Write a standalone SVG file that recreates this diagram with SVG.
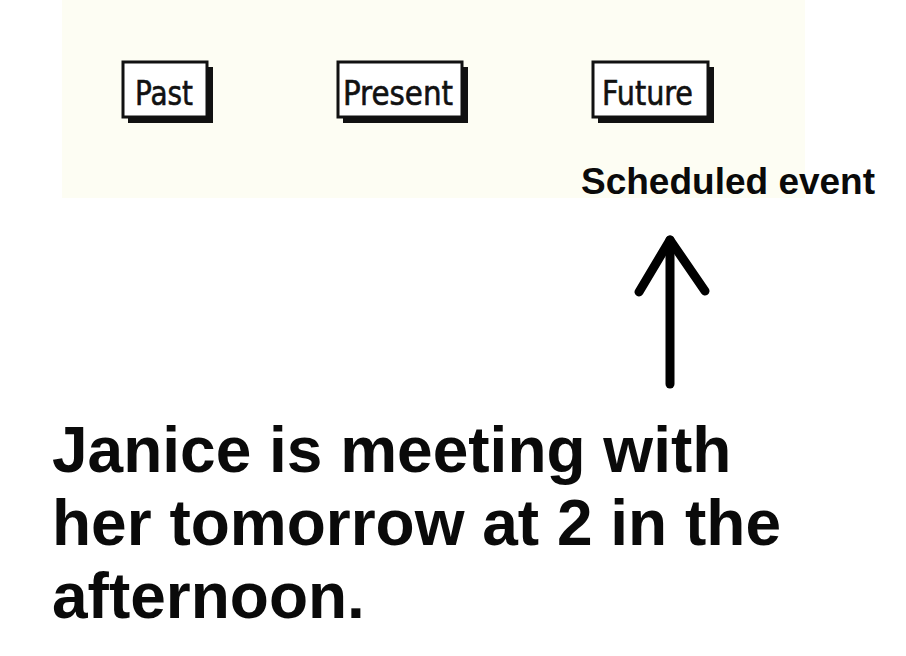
<svg xmlns="http://www.w3.org/2000/svg" width="906" height="656" viewBox="0 0 906 656">
<style>
.box{fill:#ffffff;stroke:#111;stroke-width:3}
.shadow{fill:#111}
.lbl{font-family:"DejaVu Sans Condensed","DejaVu Sans",sans-serif;font-size:34px;fill:#111;stroke:#111;stroke-width:0.6}
.cap{font-family:"Liberation Sans",Arial,sans-serif;font-weight:bold;fill:#0a0a0a}
.arrow{fill:none;stroke:#000;stroke-width:9;stroke-linecap:round;stroke-linejoin:round}
</style>
<rect width="906" height="656" fill="#ffffff"/>
<rect x="62" y="0" width="743" height="198" fill="#fdfdf3"/>
<g id="past">
<rect class="shadow" x="128" y="67" width="85" height="56"/>
<rect class="box" x="123" y="62" width="84" height="55"/>
<text class="lbl" x="135" y="105" textLength="58" lengthAdjust="spacingAndGlyphs">Past</text>
</g>
<g id="present">
<rect class="shadow" x="343" y="67" width="125" height="56"/>
<rect class="box" x="338" y="62" width="124" height="55"/>
<text class="lbl" x="343" y="105" textLength="110" lengthAdjust="spacingAndGlyphs">Present</text>
</g>
<g id="future">
<rect class="shadow" x="598" y="67" width="116" height="56"/>
<rect class="box" x="593" y="62" width="115" height="55"/>
<text class="lbl" x="602" y="105" textLength="91" lengthAdjust="spacingAndGlyphs">Future</text>
</g>
<g id="scheduled">
<text class="cap" x="581" y="194" font-size="37">Scheduled event</text>
</g>
<g id="connectors">
<path class="arrow" d="M670 384 L670 240"/>
<path class="arrow" d="M639 292 L670 240 L705 291"/>
</g>
<g id="sentence">
<text class="cap" x="52" y="472" font-size="64">Janice is meeting with</text>
<text class="cap" x="52" y="545" font-size="64">her tomorrow at 2 in the</text>
<text class="cap" x="52" y="618" font-size="64">afternoon.</text>
</g>
</svg>
